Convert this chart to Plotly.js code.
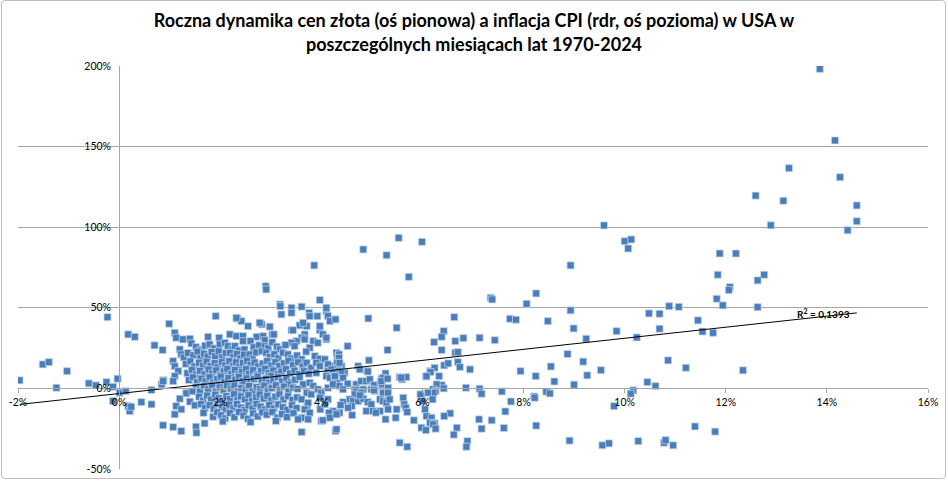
<!DOCTYPE html>
<html>
<head>
<meta charset="utf-8">
<script src="https://cdn.plot.ly/plotly-3.0.1.min.js"></script>
<style>
  body { margin: 0; background: #fff; }
  #wrap { position: relative; width: 948px; height: 481px; }
  #plot { width: 948px; height: 481px; }
  #frame { position: absolute; left: 1px; top: 0; width: 943px; height: 477px;
           border: 1px solid #bfbfbf; border-radius: 4px; pointer-events: none; }
</style>
</head>
<body>
<div id="wrap"><div id="plot"></div><div id="frame"></div></div>
<script>
// Inflacja CPI r/r (%) - os pozioma
var inflacjaCPI = [
  // ujemna i niska inflacja
  -1.97,-1.51,-1.39,-1.24,-1.03,-0.60,-0.46,-0.25,-0.23,-0.12,
  -0.12,-0.03,0.01,0.13,0.18,0.31,0.18,0.21,0.24,0.44,
  0.64,0.64,0.70,0.86,0.84,0.88,0.99,0.87,0.87,1.33,
  // gorna czesc skupiska
  1.10,1.13,1.26,1.40,1.76,1.98,2.19,2.32,2.45,2.72,
  2.85,3.03,3.41,3.57,3.67,3.71,3.97,4.03,4.10,3.61,
  1.91,2.34,2.42,2.32,2.55,2.82,2.98,2.60,2.88,2.45,
  2.90,2.91,3.18,3.19,3.21,3.41,3.41,3.61,3.76,3.97,
  3.92,4.10,4.13,4.17,4.10,4.28,3.77,3.64,3.44,3.86,
  3.06,2.78,3.97,4.10,3.67,3.84,3.93,3.51,3.41,4.52,
  1.20,1.43,1.52,1.62,1.70,1.79,1.88,1.99,2.09,2.15,
  2.24,2.29,2.37,2.48,2.66,2.77,2.88,2.95,3.03,3.12,
  3.18,3.29,3.47,3.77,
  1.23,1.28,1.36,1.47,1.55,1.61,1.68,1.75,1.83,1.90,
  1.97,2.04,2.11,2.19,2.26,2.33,2.40,2.47,2.58,2.64,
  2.71,2.82,2.91,2.98,3.07,3.15,3.24,3.34,3.40,3.52,
  3.61,3.87,3.97,4.07,4.30,4.32,4.35,4.35,4.94,3.70,
  1.07,1.10,1.32,1.41,1.49,1.58,1.66,1.73,1.81,1.89,
  1.95,2.03,2.10,2.18,2.25,2.31,2.38,2.45,2.53,2.60,
  2.68,2.75,2.84,2.93,3.00,3.09,3.17,3.26,3.35,3.44,
  3.54,3.63,3.71,3.80,3.90,3.97,4.20,4.31,4.40,4.13,
  4.33,4.36,4.73,4.76,6.43,6.51,6.70,6.74,9.18,8.54,
  1.17,1.35,1.44,1.52,1.60,1.69,1.77,1.84,1.92,2.00,
  2.07,2.14,2.22,2.29,2.36,2.43,2.51,2.57,2.65,2.73,
  2.81,2.89,2.96,3.05,3.13,3.21,3.30,3.38,3.47,3.56,
  3.66,3.75,3.90,4.13,4.20,4.23,4.36,4.46,4.40,4.90,
  4.92,5.27,6.15,6.24,6.16,6.94,9.53,7.94,12.34,3.00,
  // okolice zera
  1.10,1.07,1.38,1.46,1.54,1.63,1.71,1.79,1.86,1.94,
  2.01,2.08,2.16,2.23,2.30,2.37,2.44,2.52,2.59,2.67,
  2.74,2.82,2.90,2.97,3.05,3.14,3.22,3.31,3.40,3.48,
  3.57,3.64,3.77,4.10,4.17,4.26,4.31,4.43,4.27,4.52,
  4.69,4.79,4.89,4.96,5.04,5.19,5.17,5.20,5.22,5.19,
  5.31,5.55,5.60,5.68,5.58,6.07,6.33,6.08,6.38,6.28,
  8.24,9.26,8.61,9.00,10.45,10.61,1.33,2.46,1.95,3.35,
  1.52,1.60,1.68,1.76,1.84,1.91,1.99,2.06,2.13,2.21,
  2.28,2.35,2.42,2.50,2.57,2.64,2.72,2.79,2.87,2.94,
  3.02,3.10,3.18,3.26,3.35,3.44,3.53,3.71,3.84,3.93,
  4.00,4.13,4.23,4.36,4.43,4.66,4.83,4.99,5.06,5.32,
  5.04,4.69,5.32,6.42,6.86,7.13,6.21,6.26,7.57,8.45,
  10.17,10.12,8.52,7.17,6.22,6.11,5.22,5.32,4.79,4.66,
  1.45,1.40,1.50,
  // spadki cen zlota
  1.20,1.58,1.66,1.74,1.82,1.90,1.97,2.04,2.12,2.19,
  2.27,2.34,2.41,2.49,2.56,2.63,2.71,2.78,2.86,2.93,
  3.01,3.09,3.17,3.25,3.34,3.43,3.52,3.61,3.80,3.97,
  4.13,4.56,4.43,4.63,4.73,4.83,4.76,4.92,5.16,5.22,
  5.29,5.35,5.62,5.98,5.96,6.00,6.20,8.21,8.22,7.75,
  1.13,1.23,1.62,1.70,1.79,1.87,1.95,2.03,2.11,2.18,
  2.26,2.33,2.41,2.48,2.56,2.64,2.72,2.80,2.88,2.97,
  3.06,3.15,3.24,3.33,3.42,3.51,3.72,3.74,3.67,3.98,
  4.07,4.38,4.60,4.53,4.99,5.64,5.67,5.49,5.32,6.05,
  4.89,5.02,5.16,5.08,5.70,6.55,7.64,9.79,4.23,4.36,
  1.10,1.67,1.86,1.94,2.02,2.10,2.19,2.28,2.37,2.46,
  2.55,2.65,2.74,2.83,2.92,3.03,3.13,3.22,3.32,3.45,
  3.61,3.77,4.15,4.17,4.30,4.61,6.08,6.18,6.43,5.47,
  1.07,1.23,1.52,1.53,1.69,2.05,2.60,3.10,3.54,3.61,
  3.74,4.00,4.03,4.28,4.30,5.83,5.27,6.15,6.24,5.98,
  6.07,6.21,6.26,7.12,7.37,7.17,7.61,8.25,6.68,6.62,
  6.89,6.87,8.91,9.56,9.69,5.55,5.70,11.39,11.79,10.27,
  10.78,10.81,10.96,
  // wyzsza inflacja, duze wzrosty
  4.83,5.29,5.53,5.99,5.73,8.93,9.59,7.35,7.38,8.06,
  8.25,8.93,6.63,4.93,5.49,7.73,7.85,8.48,8.99,9.84,
  6.42,6.38,6.23,6.65,6.81,7.13,7.43,9.24,5.31,6.38,
  6.65,6.70,8.87,
  13.86,14.16,13.25,14.26,12.59,13.14,14.59,14.59,12.89,14.41,
  10.00,10.13,10.07,11.88,12.20,11.84,12.76,12.63,12.08,12.06,
  11.82,11.94,10.88,11.07,12.63,10.48,10.69,11.45,10.24,10.69,
  11.54,11.75,10.86,11.21
];

// Roczna zmiana ceny zlota (%) - os pionowa
var zmianaZlota = [
  5.0,14.9,16.3,0.4,10.7,3.1,1.9,3.9,44.2,1.0,
  -7.9,6.0,-2.7,-1.7,33.5,32.0,-11.0,-14.1,-11.4,-8.5,
  -9.9,-1.0,26.7,23.8,2.5,5.1,40.1,-22.9,4.5,-3.0,
  34.5,31.4,30.4,30.8,32.0,31.4,33.5,32.4,32.4,32.0,
  32.4,33.5,36.1,39.1,33.5,38.6,36.1,33.5,30.4,31.4,
  44.8,43.2,41.7,43.8,38.6,39.7,38.3,29.3,29.9,29.3,
  63.4,61.4,52.1,51.0,45.9,50.0,46.9,50.7,46.9,54.8,
  44.8,47.9,44.8,41.7,50.0,42.8,44.8,40.7,36.1,76.3,
  33.5,40.7,38.6,31.4,30.4,29.3,28.3,29.3,28.3,26.2,
  24.2,27.9,25.6,24.0,26.5,27.3,24.8,27.3,28.3,26.2,
  24.5,26.2,23.6,24.2,25.5,26.8,26.2,25.2,28.6,25.9,
  24.2,26.9,26.2,25.2,
  21.1,19.2,22.0,20.6,22.8,18.9,21.5,19.8,22.6,20.1,
  23.0,19.4,21.9,22.1,19.6,21.3,18.7,20.9,21.1,18.6,
  22.3,23.1,22.1,19.5,21.2,18.8,22.1,21.1,18.5,20.4,
  18.0,20.0,18.4,18.0,22.1,20.0,21.1,19.0,17.4,22.8,
  16.9,13.8,15.2,16.8,13.6,15.9,14.1,16.6,13.9,15.7,
  13.2,16.4,14.4,16.9,14.0,16.2,13.5,15.8,17.2,14.6,
  16.1,13.7,15.4,17.0,14.2,16.3,13.9,15.6,17.1,14.4,
  16.2,13.7,15.9,12.8,15.9,13.8,13.8,15.9,13.8,14.9,
  12.8,15.9,13.8,11.8,14.3,15.5,16.3,13.2,16.6,13.6,
  10.7,9.4,11.5,8.6,10.9,8.9,11.7,9.2,11.2,8.4,
  10.6,12.1,9.0,11.4,8.7,10.3,12.0,9.1,11.3,8.5,
  10.8,12.2,9.6,11.1,8.8,10.4,12.0,9.3,11.0,8.9,
  10.7,9.1,9.7,10.7,11.8,9.7,10.7,9.7,9.7,10.7,
  10.5,9.3,10.7,12.8,10.1,11.8,11.3,10.7,11.2,7.8,
  7.6,4.5,5.2,6.9,3.8,6.1,4.4,7.0,3.6,5.8,
  7.3,4.1,6.4,3.3,5.5,7.2,4.6,6.3,3.9,5.9,
  7.4,4.2,6.0,3.5,5.1,7.0,4.4,6.2,3.7,5.4,
  7.1,2.5,3.5,7.6,6.6,7.6,3.5,6.6,7.6,2.9,
  2.5,4.5,4.5,5.6,2.0,6.0,3.5,2.5,6.6,4.5,
  6.0,7.0,5.6,7.0,6.6,7.3,7.6,7.6,2.0,2.5,
  7.6,8.1,4.3,2.3,3.9,1.4,-3.0,2.6,2.2,2.4,
  0.9,-1.4,1.6,-0.5,1.9,-1.8,0.6,-1.1,1.4,-0.2,
  1.8,-1.6,0.3,-0.9,1.5,-1.9,0.8,-0.4,1.7,-1.3,
  0.2,1.9,-0.8,1.1,-1.5,0.5,-0.3,-2.7,1.4,-0.6,
  -2.7,0.4,2.5,1.4,-0.6,-0.6,-0.6,-0.6,-1.7,-0.6,
  -1.1,-1.1,0.4,0.0,0.4,-0.2,-0.6,-1.7,-1.9,-2.0,
  -1.2,-3.3,-3.1,-3.3,-2.7,-2.7,-2.7,-2.7,-2.7,-3.7,
  -1.8,-8.2,-10.5,
  -6.4,-5.2,-7.6,-4.4,-6.9,-3.9,-6.1,-7.9,-4.8,-6.6,
  -3.6,-7.3,-5.0,-6.8,-4.2,-7.7,-5.5,-3.8,-6.3,-4.6,
  -7.4,-5.1,-3.7,-6.8,-4.9,-7.1,-5.6,-6.8,-3.7,-5.8,
  -6.8,-6.8,-8.5,-7.9,-7.9,-6.4,-4.3,-8.5,-6.8,-7.9,
  -8.9,-6.8,-5.8,-4.8,-3.7,-7.9,-6.8,-5.0,-5.8,-8.1,
  -11.0,-13.0,-9.8,-12.1,-10.4,-12.7,-9.5,-11.6,-13.2,-10.1,
  -12.3,-9.7,-11.9,-13.4,-10.6,-12.5,-9.6,-11.3,-13.1,-10.2,
  -12.4,-9.9,-11.7,-13.3,-10.5,-12.2,-11.0,-8.9,-13.0,-13.0,
  -9.9,-10.4,-11.0,-12.0,-9.9,-9.9,-12.0,-13.0,-13.0,-13.0,
  -14.1,-14.1,-14.1,-15.1,-14.7,-15.5,-14.3,-11.0,-14.1,-15.1,
  -16.1,-15.2,-17.6,-14.8,-16.7,-18.6,-15.3,-17.9,-14.6,-16.9,
  -18.8,-15.5,-17.4,-14.9,-16.3,-14.7,-18.1,-16.0,-17.8,-15.4,
  -18.2,-15.1,-15.1,-18.2,-16.1,-16.6,-17.2,-18.2,-17.2,-18.2,
  -24.0,-26.5,-23.8,-27.5,-21.7,-20.5,-20.9,-20.2,-19.2,-27.1,
  -19.2,-20.3,-19.8,-26.5,-25.4,-19.8,-19.2,-21.3,-21.7,-24.4,
  -25.9,-22.3,-25.0,-19.2,-19.8,-25.0,-24.6,-23.1,-24.4,-28.7,
  -32.7,-36.2,-32.4,-35.3,-34.1,-33.7,-36.2,-23.6,-26.8,-32.7,
  -33.7,-32.1,-35.3,
  86.2,82.6,93.4,90.9,69.2,76.3,101.1,56.2,55.2,52.5,
  58.9,48.4,44.2,43.4,37.6,43.2,42.6,41.7,37.2,35.5,
  35.5,32.0,28.7,29.3,31.2,31.4,29.9,30.8,23.8,23.8,
  22.1,22.5,21.3,
  198.2,153.8,136.6,131.0,119.6,116.4,113.5,103.7,101.2,98.1,
  91.3,92.4,86.8,83.7,83.7,70.5,70.5,67.0,62.8,61.0,
  55.6,51.5,51.0,50.6,50.4,46.5,46.3,42.2,31.6,37.0,
  35.3,34.5,17.4,12.8
];

// Liniowa linia trendu i R^2
var trendSlope = 3.43;
var trendIntercept = -3.2;
var rSquaredText = "R<sup>2</sup> = 0,1393";

// Osie
var xRange = [-2, 16];
var yRange = [-50, 200];
var xTickVals = [-2, 0, 2, 4, 6, 8, 10, 12, 14, 16];
var xTickText = ["-2%", "0%", "2%", "4%", "6%", "8%", "10%", "12%", "14%", "16%"];
var yTickVals = [-50, 0, 50, 100, 150, 200];
var yTickText = ["-50%", "0%", "50%", "100%", "150%", "200%"];

var xMin = Math.min.apply(null, inflacjaCPI);
var xMax = Math.max.apply(null, inflacjaCPI);
function trend(x) { return trendIntercept + trendSlope * x; }

var points = {
  x: inflacjaCPI,
  y: zmianaZlota,
  mode: "markers",
  type: "scatter",
  marker: {
    symbol: "square",
    size: 7,
    color: "#4a7ebb",
    line: { width: 0.8, color: "rgba(198,214,236,0.9)" }
  },
  hoverinfo: "x+y"
};

var trendLine = {
  x: [xMin, xMax],
  y: [trend(xMin), trend(xMax)],
  mode: "lines",
  type: "scatter",
  line: { color: "#000000", width: 1 },
  hoverinfo: "skip"
};

var gridGrey = "#a6a6a6";
var labelX = xMax - 0.65;

var layout = {
  width: 948,
  height: 481,
  margin: { l: 18, r: 20, t: 66, b: 12 },
  paper_bgcolor: "#ffffff",
  plot_bgcolor: "#ffffff",
  showlegend: false,
  font: { family: "Lato, 'Open Sans', sans-serif", color: "#000000", size: 10 },
  title: {
    text: "<b>Roczna dynamika cen złota (oś pionowa) a inflacja CPI (rdr, oś pozioma) w USA w<br>poszczególnych miesiącach lat 1970-2024</b>",
    font: { size: 18, color: "#000000" },
    x: 0.5,
    xref: "container",
    y: 0.943,
    yref: "container",
    yanchor: "top"
  },
  xaxis: {
    range: xRange,
    tickvals: xTickVals,
    ticktext: xTickText,
    showgrid: false,
    zeroline: false,
    showline: true,
    linecolor: gridGrey,
    linewidth: 1,
    ticks: "outside",
    ticklen: 4,
    tickcolor: gridGrey,
    anchor: "free",
    position: (0 - yRange[0]) / (yRange[1] - yRange[0]),
    tickfont: { size: 10.5 }
  },
  yaxis: {
    range: yRange,
    tickvals: yTickVals,
    ticktext: yTickText,
    showgrid: true,
    gridcolor: gridGrey,
    gridwidth: 1,
    zeroline: false,
    showline: true,
    linecolor: gridGrey,
    linewidth: 1,
    ticks: "",
    ticklabelstandoff: 6,
    anchor: "free",
    position: (0 - xRange[0]) / (xRange[1] - xRange[0]),
    tickfont: { size: 10.5 }
  },
  annotations: [{
    x: labelX,
    y: trend(labelX) + 2,
    xref: "x",
    yref: "y",
    text: "<b>" + rSquaredText + "</b>",
    showarrow: false,
    font: { size: 10, color: "#000000" }
  }]
};

Plotly.newPlot("plot", [points, trendLine], layout, { displayModeBar: false, staticPlot: true });
</script>
</body>
</html>
